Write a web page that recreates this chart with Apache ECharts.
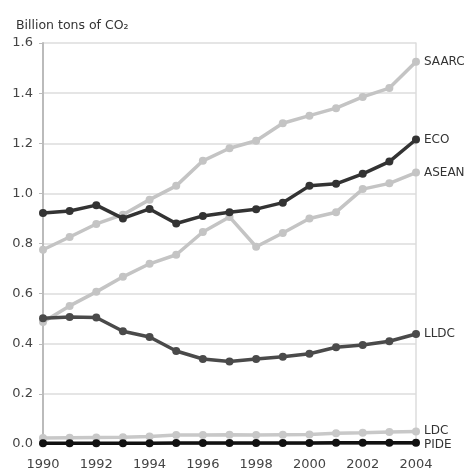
<!DOCTYPE html>
<html><head><meta charset="utf-8">
<script src="https://cdn.jsdelivr.net/npm/echarts@6/dist/echarts.min.js"></script>
<style>html,body{margin:0;padding:0;background:#fff}#c{width:473px;height:473px}</style>
</head><body><div id="c"></div>
<script>
var years = ['1990','1991','1992','1993','1994','1995','1996','1997','1998','1999','2000','2001','2002','2003','2004'];
var SAARC = [0.775,0.826,0.878,0.915,0.975,1.03,1.13,1.18,1.21,1.28,1.31,1.34,1.385,1.42,1.525];
var ECO   = [0.922,0.93,0.953,0.90,0.938,0.88,0.91,0.925,0.937,0.963,1.03,1.038,1.078,1.127,1.215];
var ASEAN = [0.487,0.551,0.607,0.667,0.719,0.755,0.846,0.906,0.787,0.842,0.90,0.925,1.017,1.04,1.083];
var LLDC  = [0.502,0.507,0.505,0.45,0.427,0.371,0.339,0.329,0.339,0.348,0.36,0.386,0.395,0.41,0.439];
var LDC   = [0.024,0.025,0.026,0.027,0.03,0.036,0.036,0.037,0.036,0.037,0.038,0.043,0.045,0.048,0.05];
var PIDE  = [0.003,0.003,0.003,0.003,0.003,0.004,0.004,0.004,0.004,0.004,0.004,0.005,0.005,0.005,0.005];
var yTicks = {min:0, max:1.6, interval:0.2};

var font = '"DejaVu Sans", sans-serif';
function mk(name, data, color, z, off){
  return {
    name:name, type:'line', data:data, z:z,
    symbol:'circle', symbolSize:8,
    lineStyle:{color:color, width:3.5},
    itemStyle:{color:color},
    endLabel:{show:true, formatter:name, color:'#333', fontSize:12, fontFamily:font, distance:8, offset:off||[0,0]},
    animation:false
  };
}
var chart = echarts.init(document.getElementById('c'));
chart.setOption({
  animation:false,
  grid:{left:43, right:57, top:43, bottom:29},
  title:{text:'Billion tons of CO\u2082', left:11, top:14, textStyle:{fontSize:12.5, fontWeight:'normal', color:'#333', fontFamily:font}},
  xAxis:{type:'category', data:years, boundaryGap:false,
    axisLine:{show:true, lineStyle:{color:'#bbb', width:2}},
    axisTick:{show:false},
    axisLabel:{interval:1, color:'#444', fontSize:13, fontFamily:font, margin:14},
    splitLine:{show:false}},
  yAxis:[{type:'value', min:yTicks.min, max:yTicks.max, interval:yTicks.interval,
    axisLine:{show:true, lineStyle:{color:'#bbb', width:2}},
    axisTick:{show:true, length:4, lineStyle:{color:'#bbb'}},
    axisLabel:{color:'#444', fontSize:13, fontFamily:font, margin:10, formatter:function(v){return v.toFixed(1);}},
    splitLine:{show:true, lineStyle:{color:'#ddd', width:1.5}}},
   {type:'value', position:'right', min:yTicks.min, max:yTicks.max, interval:yTicks.interval,
    axisLine:{show:true, lineStyle:{color:'#ddd', width:1.5}},
    axisTick:{show:false}, axisLabel:{show:false}, splitLine:{show:false}}],
  series:[
    mk('SAARC', SAARC, '#c4c4c4', 3),
    mk('ASEAN', ASEAN, '#c4c4c4', 3),
    mk('ECO', ECO, '#333333', 4),
    mk('LLDC', LLDC, '#4a4a4a', 4),
    mk('LDC', LDC, '#c8c8c8', 3, [0,-1]),
    mk('PIDE', PIDE, '#111111', 5, [0,2])
  ]
});
</script></body></html>
